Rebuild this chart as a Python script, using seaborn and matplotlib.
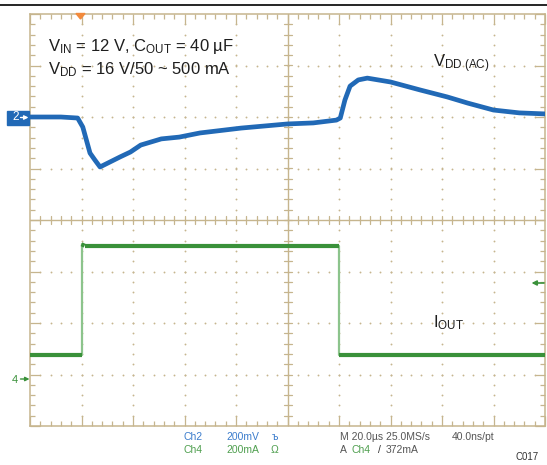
import numpy as np
import pandas as pd
import matplotlib
matplotlib.use("Agg")
import matplotlib.pyplot as plt
from matplotlib.patches import Polygon, Rectangle, FancyArrowPatch
from matplotlib.lines import Line2D
import seaborn as sns

# Ch2: V_DD ripple, AC coupled (mV) against time (µs, trigger at 0)
ch2_time = [-20, -8, -1.5, 0.5, 3.3, 5.2, 7.2, 11, 15, 19, 23, 27, 31, 38, 46,
            62, 80, 90, 99, 100.5, 102.3, 104.3, 107.5, 111, 120, 131.5, 142,
            150, 160, 170, 180]
ch2_mv = [0, 0, -4, -39, -140, -167, -194, -175, -155, -136, -109, -97, -85,
          -78, -62, -43, -27, -23, -12, -4, 66, 120, 144, 151, 136, 105, 78,
          54, 27, 16, 12]

# Ch4: output current load step (mA)
ch4_time = [-20, 0, 0, 1.2, 3, 100, 100, 180]
ch4_ma = [95, 95, 526, 520, 520, 520, 95, 95]

CH2_SCALE, CH2_POS = 200.0, 2.0    # mV/div, marker position (div)
CH4_SCALE, CH4_POS = 200.0, -3.1   # mA/div, marker position (div)
T_LEFT, T_DIV, N_XDIV, N_YDIV = -20.0, 20.0, 10, 8

BLUE = "#2169b6"
GREEN = "#3a913a"
GREEN_LIGHT = "#8cc48c"
TAN = "#c6b58e"
ORANGE = "#f28a3c"

sns.set_theme(style="white")
plt.rcParams["font.family"] = ["Liberation Sans", "DejaVu Sans"]
plt.rcParams["mathtext.fontset"] = "custom"
plt.rcParams["mathtext.rm"] = "Liberation Sans"
plt.rcParams["mathtext.it"] = "Liberation Sans:italic"
plt.rcParams["mathtext.bf"] = "Liberation Sans:bold"

W, H = 547, 465
fig = plt.figure(figsize=(W / 100, H / 100), dpi=100)
L, R, T, B = 30, 545, 14, 426
ax = fig.add_axes([L / W, 1 - B / H, (R - L) / W, (B - T) / H])
x0, x1 = T_LEFT, T_LEFT + N_XDIV * T_DIV
ax.set_xlim(x0, x1)
ax.set_ylim(-N_YDIV / 2, N_YDIV / 2)


def fx(x):
    return x / W


def fy(y):
    return 1 - y / H


def arrow(xa, xb, y, color, lw=1.0, scale=6):
    fig.add_artist(FancyArrowPatch((fx(xa), fy(y)), (fx(xb), fy(y)),
                                   transform=fig.transFigure,
                                   arrowstyle="-|>", color=color, lw=lw,
                                   mutation_scale=scale, shrinkA=0,
                                   shrinkB=0, zorder=8))


# ---- graticule ----
for s in ax.spines.values():
    s.set_color(TAN)
    s.set_linewidth(1.1)
xmaj = x0 + T_DIV * np.arange(N_XDIV + 1)
xmin = x0 + T_DIV / 5 * np.arange(N_XDIV * 5 + 1)
ymaj = np.arange(-N_YDIV / 2, N_YDIV / 2 + 1)
ymin = np.arange(-N_YDIV / 2, N_YDIV / 2 + 0.01, 0.2)
ax.set_xticks(xmaj)
ax.set_xticks(xmin, minor=True)
ax.set_yticks(ymaj)
ax.set_yticks(ymin, minor=True)
ax.tick_params(which="both", direction="in", top=True, right=True,
               bottom=True, left=True, labelbottom=False, labelleft=False,
               color=TAN, width=0.9)
ax.tick_params(which="major", length=7.5)
ax.tick_params(which="minor", length=3.6)

xc = x0 + T_DIV * N_XDIV / 2
dots_x, dots_y = [], []
for xv in xmaj[1:-1]:
    if abs(xv - xc) < 1e-9:
        continue
    for yv in ymin[1:-1]:
        dots_x.append(xv)
        dots_y.append(yv)
for yv in ymaj[1:-1]:
    if abs(yv) < 1e-9:
        continue
    for xv in xmin[1:-1]:
        dots_x.append(xv)
        dots_y.append(yv)
ax.scatter(dots_x, dots_y, s=1.8, color=TAN, linewidths=0, zorder=1)

ax.axvline(xc, color=TAN, lw=1.0, zorder=1)
ax.axhline(0, color=TAN, lw=1.0, zorder=1)
hx = 4 / ((R - L) / (x1 - x0))
hy = 3.6 / ((B - T) / N_YDIV)
for yv in ymin[1:-1]:
    ax.plot([xc - hx, xc + hx], [yv, yv], color=TAN, lw=0.9, zorder=1)
for xv in xmin[1:-1]:
    ax.plot([xv, xv], [-hy, hy], color=TAN, lw=0.9, zorder=1)

# ---- traces ----
df2 = pd.DataFrame({"t": ch2_time,
                    "div": CH2_POS + np.array(ch2_mv) / CH2_SCALE})
sns.lineplot(data=df2, x="t", y="div", ax=ax, color=BLUE, lw=3.4,
             estimator=None, sort=False, zorder=4)

rows = []
for i in range(len(ch4_time) - 1):
    kind = "edge" if ch4_time[i] == ch4_time[i + 1] else "flat"
    for j in (i, i + 1):
        rows.append({"seg": i, "kind": kind, "t": ch4_time[j],
                     "div": CH4_POS + ch4_ma[j] / CH4_SCALE})
df4 = pd.DataFrame(rows)
sns.lineplot(data=df4[df4.kind == "edge"], x="t", y="div", units="seg",
             ax=ax, color=GREEN_LIGHT, lw=1.6, estimator=None, sort=False,
             zorder=3)
sns.lineplot(data=df4[df4.kind == "flat"], x="t", y="div", units="seg",
             ax=ax, color=GREEN, lw=3.0, estimator=None, sort=False,
             zorder=4, solid_capstyle="butt")
ax.set_xlabel("")
ax.set_ylabel("")

# ---- screen furniture ----
fig.add_artist(Line2D([0, 1], [fy(5), fy(5)], transform=fig.transFigure,
                      color="black", lw=1.2))

# trigger position marker
fig.add_artist(Polygon([(fx(76), fy(13.5)), (fx(85), fy(13.5)),
                        (fx(80.5), fy(19))], closed=True,
                       transform=fig.transFigure, color=ORANGE, zorder=6))

# channel 2 ground marker
fig.add_artist(Rectangle((fx(7), fy(124.5)), fx(22), 13.5 / H,
                         transform=fig.transFigure, color=BLUE, zorder=6))
fig.text(fx(15.5), fy(117.5), "2", color="white", fontsize=8.5,
         ha="center", va="center", zorder=7)
arrow(20.5, 28.5, 117.5, "white", lw=1.0, scale=6)

# channel 4 ground marker
fig.text(fx(15), fy(380), "4", color=GREEN, fontsize=8,
         ha="center", va="center")
arrow(20.5, 29.5, 379, GREEN, lw=1.0, scale=6)

# trigger level marker
arrow(544, 531.5, 283, GREEN, lw=1.2, scale=7)

# ---- labels ----
TXT = "#1e1e1e"
fig.text(fx(48), fy(51), r"V$_{\mathrm{IN}}$ = 12 V, C$_{\mathrm{OUT}}$ = 40 µF",
         fontsize=12, color=TXT, va="baseline")
fig.text(fx(48), fy(74), r"V$_{\mathrm{DD}}$ = 16 V/50 ~ 500 mA",
         fontsize=12, color=TXT, va="baseline")
fig.text(fx(433), fy(67), r"V$_{\mathrm{DD\ (AC)}}$",
         fontsize=12, color=TXT, va="baseline")
fig.text(fx(433), fy(327), r"I$_{\mathrm{OUT}}$",
         fontsize=12, color=TXT, va="baseline")

# ---- status readout ----
BL2 = "#3b7ccc"
GR2 = "#4f9f4f"
GRY = "#555555"
fs = 7.5
r1, r2 = fy(439.5), fy(452.5)
fig.text(fx(184), r1, "Ch2", color=BL2, fontsize=fs, va="baseline")
fig.text(fx(226), r1, "200mV", color=BL2, fontsize=fs, va="baseline")
fig.text(fx(272), r1, "ъ", color=BL2, fontsize=fs, va="baseline")
fig.text(fx(184), r2, "Ch4", color=GR2, fontsize=fs, va="baseline")
fig.text(fx(226), r2, "200mA", color=GR2, fontsize=fs, va="baseline")
fig.text(fx(271), r2, "Ω", color=GR2, fontsize=fs, va="baseline")
fig.text(fx(340), r1, "M 20.0µs 25.0MS/s", color=GRY, fontsize=fs,
         va="baseline")
fig.text(fx(452), r1, "40.0ns/pt", color=GRY, fontsize=fs, va="baseline")
fig.text(fx(340), r2, "A", color=GRY, fontsize=fs, va="baseline")
fig.text(fx(351), r2, "Ch4", color=GR2, fontsize=fs, va="baseline")
fig.text(fx(378), r2, "/", color="#333333", fontsize=fs, va="baseline")
fig.text(fx(386), r2, "372mA", color=GRY, fontsize=fs, va="baseline")
fig.text(fx(515), fy(460), "C017", color="#333333", fontsize=7,
         va="baseline")

fig.savefig("out.png", dpi=100)
